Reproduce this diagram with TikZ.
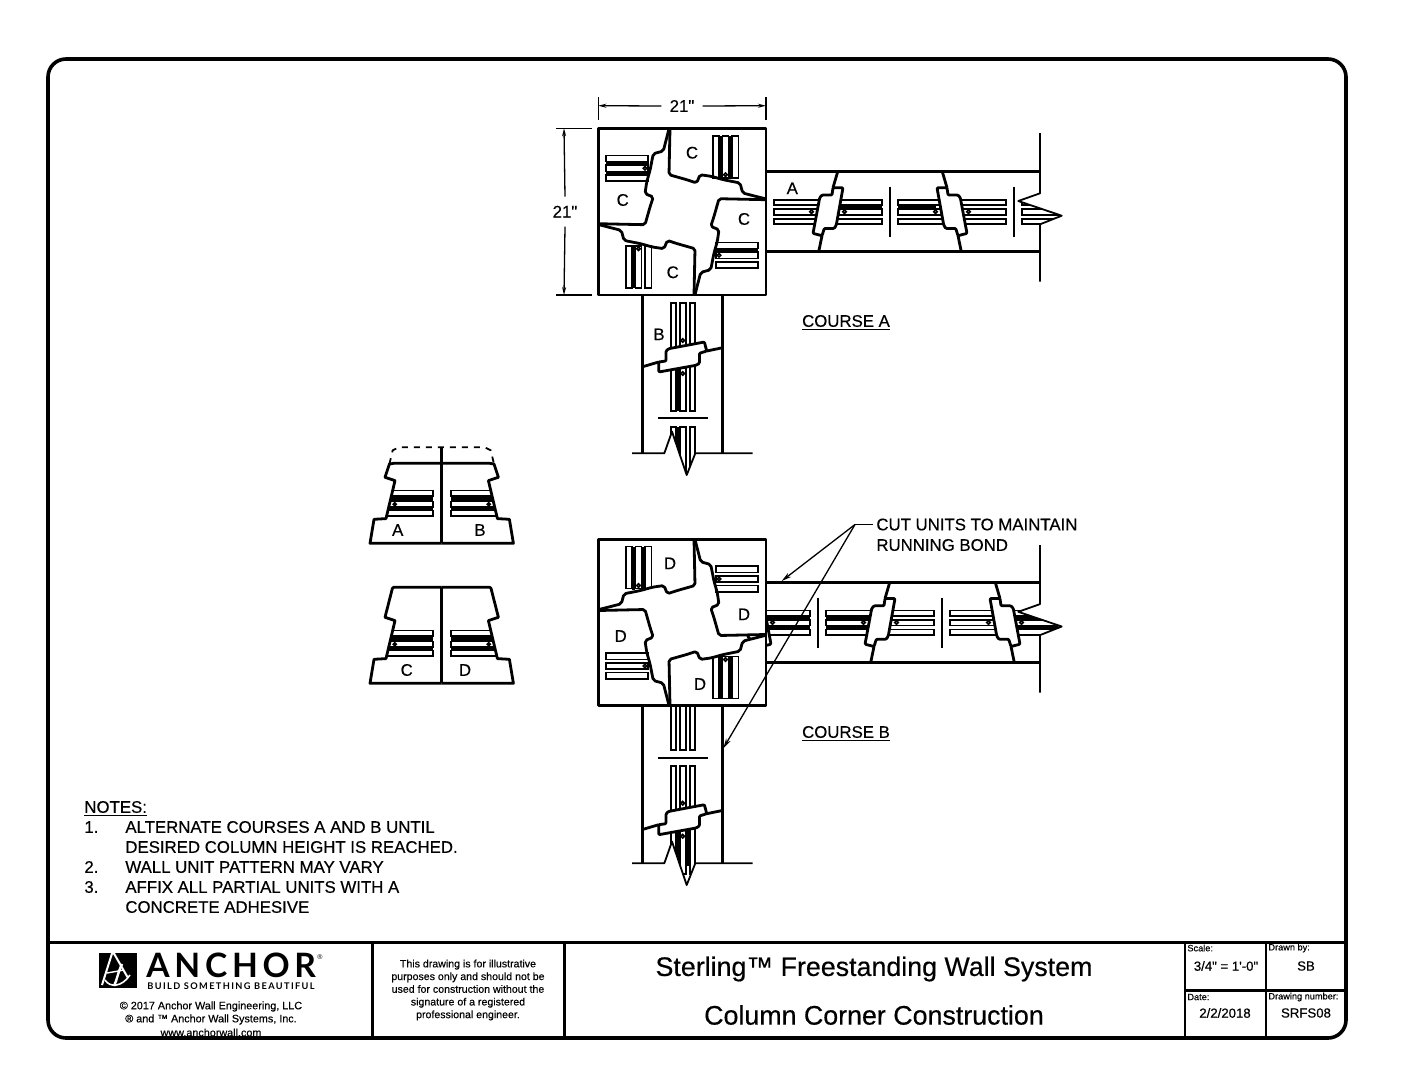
\documentclass[tikz,border=0pt]{standalone}
\usepackage{fontspec}
\setmainfont[Ligatures=TeXOff, BoldFont={Liberation Sans}, BoldFeatures={FakeBold=0.4}]{Liberation Sans}
\newfontfamily\logofont[LetterSpace=14]{Lato}
\newfontfamily\tagfont[LetterSpace=15]{Lato}
\usetikzlibrary{arrows.meta}
\tikzset{
    heavy/.style={line width=1.4pt, line join=round},
    medium/.style={line width=0.9pt, line join=round},
    slim/.style={line width=0.65pt},
    railbar/.style={line width=0.8pt},
    label/.style={font=\bfseries\fontsize{8.4}{10}\selectfont, inner sep=0pt, text height=6.2pt, text depth=0.4pt},
    unitletter/.style={font=\bfseries\fontsize{8.4}{10}\selectfont, inner sep=0pt},
    leader/.style={slim, -{Stealth[length=5pt, width=2.5pt]}},
    dimline/.style={slim, -{Stealth[length=4pt, width=2pt]}},
    small/.style={font=\bfseries\fontsize{5.4}{6}\selectfont, inner sep=0pt, align=center},
    tiny/.style={font=\bfseries\fontsize{4.6}{5}\selectfont, inner sep=0pt, anchor=west},
    entry/.style={font=\bfseries\fontsize{6.6}{8}\selectfont, inner sep=0pt},
    title/.style={font=\bfseries\fontsize{13.4}{15}\selectfont, inner sep=0pt}
}
% tie piece between two wall units
\newcommand{\tiepiece}[2]{
  \begin{scope}[shift={(#1,0)}, xscale=#2]
    \draw[heavy] (9.7,-40) -- (5,-24);
    \draw[heavy] (-6,24) -- (-9.3,40);
    \draw[heavy, fill=white, rounded corners=0.5pt] (15,-24) -- (5,-24) -- (4,-16.7) -- (-6,-16.7) -- (-8.3,-14) -- (-15,21.7)
      -- (-6,24) -- (-3.7,16.7) -- (6.3,16.7) -- (8.3,13.3) -- cycle;
    \draw[railbar, fill=white] (-16.5,0) circle (1.8);
    \draw[railbar, fill=white] (16.5,0) circle (1.8);
  \end{scope}
}
% one wall arm: rail starts, black gaps, ticks, ties, end, far side
\newcommand{\wallarm}[6]{
  \begin{scope}
    \clip (-1,-40) -- (#4,-40) -- (#4,-18.4) -- ({#4-21.7},-10.7) -- ({#4+21.7},4) -- (#4,12.6) -- (#4,40) -- (-1,40) -- cycle;
    \foreach \r in {#1} {
      \foreach \c in {-12,-2.5,7} {
        \draw[railbar] (\r,\c) rectangle ++(108,5.5);
      }
    }
    \foreach \p/\q/\c in {#2} {
      \fill (\p,\c) rectangle (\q,{\c+4});
    }
  \end{scope}
  \foreach \t in {#3} {
    \draw[medium] (\t,-25) -- (\t,25);
  }
  \foreach \t/\s in {#5} {
    \tiepiece{\t}{\s}
  }
  \draw[heavy] (0,-40) -- (#4,-40);
  \draw[heavy] (0,40) -- (#4,40);
  \draw[medium] (#4,-#6) -- (#4,-18.4) -- ({#4-21.7},-10.7) -- ({#4+21.7},4) -- (#4,12.6) -- (#4,70);
}
% one column unit, turned about the column centre
\newcommand{\colunit}[4]{
  \begin{scope}[rotate=#1, xscale=#2]
    \fill[white] (-12,-83.7) -- (-13,-37) -- (4.7,-32) -- (14.7,-28.7) -- (18,-37) -- (29.7,-35.3) -- (41.3,-32)
      -- (58,-28.7) -- (60.7,-18.7) -- (83,-13) -- (83.7,-83.7) -- cycle;
    \fill[#3] (36.9,-76) rectangle (40.4,-33);
    \fill[#4] (46.6,-76) rectangle (50.1,-33);
    \foreach \c in {30.7,40.4,50.1} {
      \draw[railbar] (\c,-76) rectangle ++(6.2,42);
    }
    \draw[railbar, fill=white] (43.5,-37) circle (1.8);
    \draw[heavy, rounded corners=1pt] (-12,-83.7) -- (-13,-37) -- (4.7,-32) -- (14.7,-28.7) -- (18,-37) -- (29.7,-35.3) -- (41.3,-32)
      -- (58,-28.7) -- (60.7,-18.7) -- (83,-13);
  \end{scope}
}
% half of a loose unit
\newcommand{\halfunit}[3]{
  \begin{scope}[xscale=#1]
    \begin{scope}
      \clip (0,0) -- (-71.7,0) -- (-67.7,-24) -- (-55.7,-24.7) -- (-46.7,-62.7) -- (-56.7,-66) -- #2 -- (0,#3) -- cycle;
      \fill (-58,-46) rectangle (-9,-41.7);
      \fill (-58,-36.7) rectangle (-9,-32.7);
      \foreach \c in {-52.7,-41.7,-32.7} {
        \draw[railbar] (-60,\c) rectangle (-9,{\c+5.4});
      }
    \end{scope}
    \draw[railbar, fill=white] (-47,-39) circle (1.5);
    \draw[heavy] (0,0) -- (-71.7,0) -- (-67.7,-24) -- (-55.7,-24.7) -- (-46.7,-62.7) -- (-56.7,-66) -- #2 -- (-48,#3) -- (0,#3);
  \end{scope}
}
\begin{document}
\begin{tikzpicture}[x=0.5pt, y=-0.5pt]
  \useasboundingbox (0,0) rectangle (1408,1088);

  % course A
  \begin{scope}[shift={(766,211.7)}]
    \wallarm{8,132,256}{70/116/-6.5,132/170/-6.5}{124,248}{274}{62/1,186/-1}{78.7}
  \end{scope}
  \begin{scope}[shift={(682.7,295)}, cm={0,-1,-1,0,(0,0)}]
    \wallarm{8,132}{70/116/-6.5,132/165/-6.5}{123}{158.3}{62/1}{50.7}
  \end{scope}
  \begin{scope}[shift={(682,211.7)}]
    \colunit{0}{1}{black}{black}
    \colunit{-90}{1}{black}{white}
    \colunit{180}{1}{white}{black}
    \colunit{90}{1}{black}{black}
  \end{scope}
  \draw[heavy] (598.3,128.3) rectangle (766,295);
  \node[unitletter] (letterC1) at (692,152.7) {C};
  \node[unitletter] (letterC2) at (744,219) {C};
  \node[unitletter] (letterC3) at (672.7,272.3) {C};
  \node[unitletter] (letterC4) at (622.7,200) {C};
  \node[unitletter] (letterA) at (792.3,188.3) {A};
  \node[unitletter] (letterB) at (659,334.3) {B};
  \node[label] (courseA) at (846,321) {\underline{COURSE A}};

  % course B
  \begin{scope}[shift={(766,622.5)}]
    \wallarm{-64,60,184}{-30/44/-6.5,-30/44/3,60/104/-6.5,60/104/3,250/292/-6.5,250/292/3}{52,176}{274}{-10/-1,114/1,239/-1}{77.5}
  \end{scope}
  \begin{scope}[shift={(682.7,705.7)}, cm={0,-1,-1,0,(0,0)}]
    \wallarm{-64,60}{122/160/-6.5,122/160/3}{52.6}{157.6}{114/1}{50.7}
  \end{scope}
  \begin{scope}[shift={(682,622.5)}]
    \colunit{0}{-1}{black}{black}
    \colunit{-90}{-1}{white}{white}
    \colunit{180}{-1}{black}{black}
    \colunit{90}{-1}{white}{white}
  \end{scope}
  \draw[heavy] (598.3,539.3) rectangle (766,705.7);
  \node[unitletter] (letterD1) at (670,563.3) {D};
  \node[unitletter] (letterD2) at (744,614.3) {D};
  \node[unitletter] (letterD3) at (700,684) {D};
  \node[unitletter] (letterD4) at (620.7,636) {D};
  \node[label] (courseB) at (846,732) {\underline{COURSE B}};

  % loose units
  \begin{scope}[shift={(441.7,543.3)}]
    \halfunit{1}{(-52.3,-79.3)}{-80}
    \halfunit{-1}{(-52.3,-79.3)}{-80}
    \draw[medium, dashed] (-52.3,-79.3) -- (-49,-93) -- (-43,-96) -- (0,-96) -- (43,-96) -- (49,-93) -- (52.3,-79.3);
    \draw[heavy] (0,0) -- (0,-96);
  \end{scope}
  \begin{scope}[shift={(441.7,683.3)}]
    \halfunit{1}{(-49.3,-95)}{-96}
    \halfunit{-1}{(-49.3,-95)}{-96}
    \draw[heavy] (0,0) -- (0,-96);
  \end{scope}
  \node[unitletter] (looseA) at (397.7,530) {A};
  \node[unitletter] (looseB) at (480,530) {B};
  \node[unitletter] (looseC) at (406.7,670) {C};
  \node[unitletter] (looseD) at (465,670) {D};

  % dimensions
  \node[label] (widthtext) at (682,106) {21"};
  \node[label] (heighttext) at (565,211.7) {21"};
  \coordinate (widthL) at (598.3,105.7);
  \coordinate (widthR) at (766,105.7);
  \coordinate (heightT) at (564,128.3);
  \coordinate (heightB) at (564,295);
  \draw[slim] (598.3,97) -- (598.3,120);
  \draw[slim] (766,97) -- (766,120);
  \draw[slim] (556,128.3) -- (592,128.3);
  \draw[slim] (556,295) -- (592,295);
  \draw[dimline] (widthtext.west) ++(-8,0) -- (widthL);
  \draw[dimline] (widthtext.east) ++(8,0) -- (widthR);
  \draw[dimline] (heighttext.north) ++(0,-8) -- (heightT);
  \draw[dimline] (heighttext.south) ++(0,8) -- (heightB);

  % leader for the cut units
  \node[label, anchor=west] (cutnote1) at (876,524.5) {CUT UNITS TO MAINTAIN};
  \node[label, anchor=west] (cutnote2) at (876,545) {RUNNING BOND};
  \coordinate (cutknee) at (855,524.5);
  \coordinate (cuttip1) at (781.7,581);
  \coordinate (cuttip2) at (723.3,748.3);
  \draw[slim] (cutnote1.west) ++(-3,0) -- (cutknee);
  \draw[leader] (cutknee) -- (cuttip1);
  \draw[leader] (cutknee) -- (cuttip2);

  % notes
  \node[label, anchor=west] (notes) at (84,807) {\underline{NOTES:}};
  \foreach \n/\y/\t in {one/827/1.,two/867/2.,three/887/3.} {
    \node[label, anchor=west] (num\n) at (84,\y) {\t};
  }
  \node[label, anchor=west] (note1a) at (125,827) {ALTERNATE COURSES A AND B UNTIL};
  \node[label, anchor=west] (note1b) at (125,847) {DESIRED COLUMN HEIGHT IS REACHED.};
  \node[label, anchor=west] (note2) at (125,867) {WALL UNIT PATTERN MAY VARY};
  \node[label, anchor=west] (note3a) at (125,887) {AFFIX ALL PARTIAL UNITS WITH A};
  \node[label, anchor=west] (note3b) at (125,907) {CONCRETE ADHESIVE};

  % title block
  \fill (98.5,953) rectangle (137,988);
  \draw[white, line width=1pt, line join=round] (102,985) -- (112,953.5) -- (114,953.5) -- (128,978);
  \draw[white, line width=1.2pt] (122,964) .. controls (118,972) and (117,980) .. (114,986);
  \draw[white, line width=0.8pt] (105,980) .. controls (110,988) and (122,987) .. (130,975);
  \draw[white, line width=0.7pt] (107,973) -- (124,970);
  \node[inner sep=0pt, anchor=west, font=\logofont\bfseries\fontsize{16.8}{18}\selectfont] (logoname) at (146,965) {ANCHOR};
  \node[inner sep=0pt, anchor=west, font=\fontsize{3.5}{4}\selectfont] (logoreg) at (317,957) {®};
  \node[inner sep=0pt, anchor=west, font=\tagfont\bfseries\fontsize{4.6}{5}\selectfont] (logotag) at (147,986) {BUILD SOMETHING BEAUTIFUL};
  \node[small] (copy1) at (211,1006.5) {© 2017 Anchor Wall Engineering, LLC};
  \node[small] (copy2) at (211,1019.5) {® and ™ Anchor Wall Systems, Inc.};
  \node[small] (copy3) at (211,1032.5) {www.anchorwall.com};
  \node[small, font=\bfseries\fontsize{5.3}{6.35}\selectfont] (disclaimer) at (468,990) {This drawing is for illustrative\\purposes only and should not be\\used for construction without the\\signature of a registered\\professional engineer.};
  \node[title] (title1) at (874,969) {Sterling™ Freestanding Wall System};
  \node[title] (title2) at (874,1015) {Column Corner Construction};
  \node[tiny] (scalehead) at (1187,948) {Scale:};
  \node[tiny] (drawnhead) at (1268,948) {Drawn by:};
  \node[tiny] (datehead) at (1187,997) {Date:};
  \node[tiny] (numberhead) at (1268,997) {Drawing number:};
  \node[entry] (scaleval) at (1226,966) {3/4" = 1'-0"};
  \node[entry] (drawnval) at (1306,966) {SB};
  \node[entry] (dateval) at (1225,1013) {2/2/2018};
  \node[entry] (numberval) at (1306,1013) {SRFS08};

  \draw[heavy] (48,942.3) -- (1346,942.3);
  \draw[heavy] (372.5,942.3) -- (372.5,1038);
  \draw[heavy] (564.5,942.3) -- (564.5,1038);
  \draw[heavy] (1185,942.3) -- (1185,1038);
  \draw[heavy] (1266,942.3) -- (1266,1038);
  \draw[heavy] (1185,990.7) -- (1346,990.7);
  \draw[line width=1.8pt] (48,59) [rounded corners=9pt] rectangle (1346,1038);
\end{tikzpicture}
\end{document}
